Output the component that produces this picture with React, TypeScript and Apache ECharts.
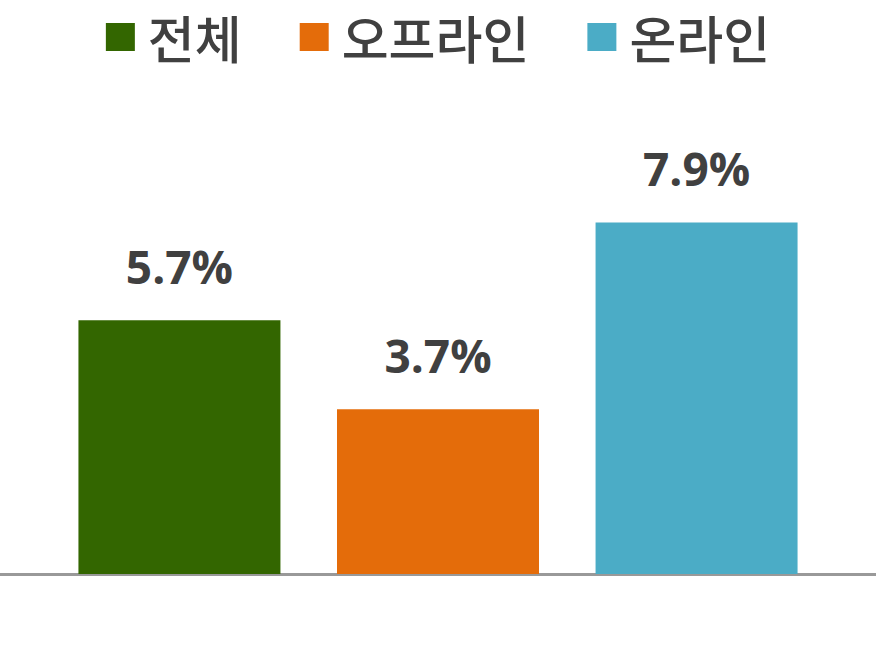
import * as echarts from "echarts"
import { useEffect, useRef } from "react"

// One (blank) category, three series side by side — growth rate per channel.
const CATEGORIES = [""]
const SERIES_NAMES = ["전체", "오프라인", "온라인"]
const SERIES_VALUES = [[5.7], [3.7], [7.9]]
const COLORS = ["#336600", "#E46C0A", "#4BACC6"]

export default function App() {
  const ref = useRef<HTMLDivElement>(null)

  useEffect(() => {
    if (!ref.current) return
    document.body.style.margin = "0"
    const chart = echarts.init(ref.current, null, { renderer: "svg" })

    chart.setOption({
      animation: false,
      grid: { top: 129, bottom: 94, left: 0, right: 0 },
      legend: {
        top: 0,
        left: "center",
        itemWidth: 29,
        itemHeight: 28,
        itemGap: 58,
        icon: "rect",
        textStyle: {
          color: "#404040",
          fontSize: 51,
          lineHeight: 64,
          fontFamily: "Noto Sans CJK KR",
          fontWeight: 500,
          padding: [0, 0, 0, 8],
        },
        data: SERIES_NAMES,
      },
      xAxis: {
        type: "category",
        data: CATEGORIES,
        axisTick: { show: false },
        axisLabel: { show: false },
        axisLine: { lineStyle: { color: "#999999", width: 3 } },
      },
      yAxis: {
        type: "value",
        min: 0,
        max: 10,
        show: false,
      },
      series: SERIES_NAMES.map((name, i) => ({
        name,
        type: "bar",
        data: SERIES_VALUES[i],
        barWidth: 202,
        barGap: "28%",
        itemStyle: { color: COLORS[i] },
        label: {
          show: true,
          position: "top",
          distance: 31,
          formatter: (p: { value: number }) => `${p.value.toFixed(1)}%`,
          color: "#404040",
          fontSize: 46,
          fontWeight: "bold",
          fontFamily: "Open Sans",
        },
      })),
    })

    return () => chart.dispose()
  }, [])

  return <div ref={ref} style={{ width: 876, height: 668 }} />
}
